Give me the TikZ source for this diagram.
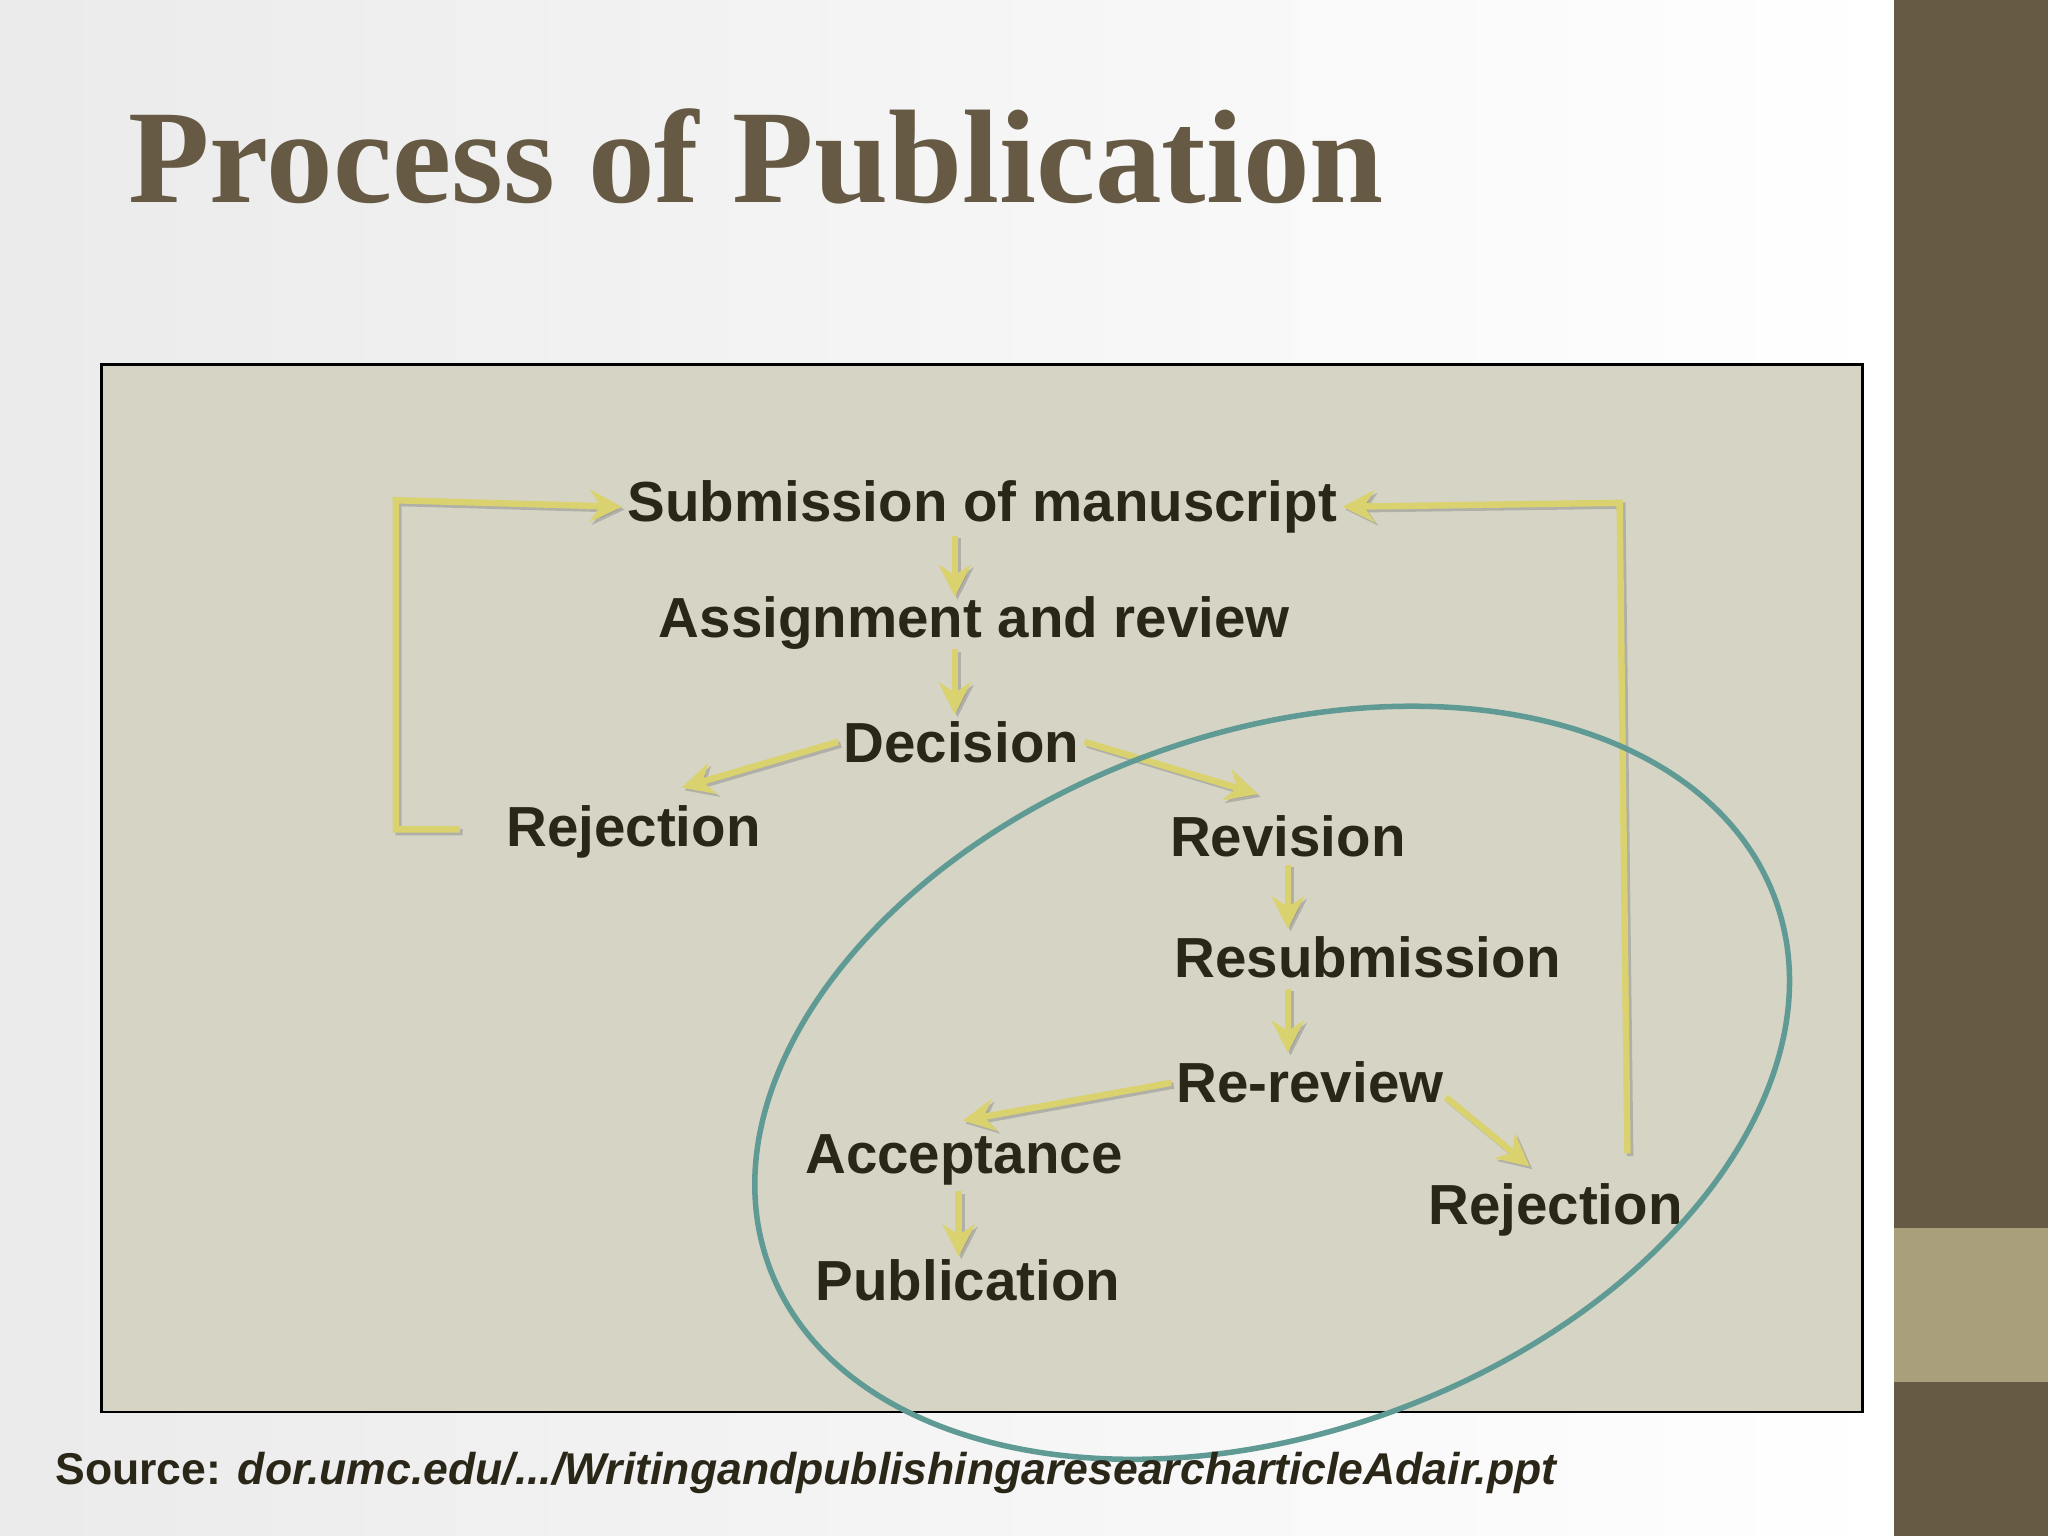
\documentclass[tikz,border=0pt]{standalone}
\usepackage{fontspec}
\setmainfont{Liberation Sans}
\newfontfamily\titlefont{Liberation Serif}
\usetikzlibrary{arrows.meta,shadows}
\definecolor{brn}{HTML}{665A44}
\definecolor{lbrn}{HTML}{A9A07B}
\definecolor{boxc}{HTML}{D6D5C5}
\definecolor{ylw}{HTML}{D9D26E}
\definecolor{teal}{HTML}{5F9A94}
\definecolor{txt}{HTML}{2A2718}
\tikzset{
 lbl/.style={font=\fontsize{12.3}{14}\selectfont\bfseries, text=txt, inner sep=1pt},
 arr/.style={draw=ylw, line width=1.4pt, -{Stealth[length=7pt,width=7pt]},
   preaction={draw=black!45, line width=1.4pt, transform canvas={xshift=0.6pt,yshift=-0.6pt}, opacity=0.5}}
}
\begin{document}
\begin{tikzpicture}[x=0.01cm,y=-0.01cm]
\useasboundingbox (0,0) rectangle (1568,1176);
\shade[left color=black!8, right color=white, shading angle=90] (0,0) rectangle (1450,1176);
\fill[brn] (1450,0) rectangle (1568,1176);
\fill[lbrn] (1450,940) rectangle (1568,1058);
\node[anchor=west, font=\titlefont\fontsize{29}{34}\selectfont\bfseries, text=brn] (title) at (86,120) {Process of Publication};
\draw[fill=boxc, draw=black, line width=0.6pt] (78,279) rectangle (1426,1081);

\node[lbl] (sub) at (752,388) {Submission of manuscript};
\node[lbl] (ass) at (746,477) {Assignment and review};
\node[lbl] (dec) at (736,568) {Decision};
\node[lbl] (rej1) at (485,637) {Rejection};
\node[lbl] (rev) at (986,640) {Revision};
\node[lbl] (res) at (1047,733) {Resubmission};
\node[lbl] (rer) at (1003,829) {Re-review};
\node[lbl] (acc) at (738,888) {Acceptance};
\node[lbl] (pub) at (741,980) {Publication};
\node[lbl] (rej2) at (1191,926) {Rejection};

\draw[arr] (731,410) -- (731,457);
\draw[arr] (731,497) -- (731,547);
\draw[arr] (dec.west) -- (522,603);
\draw[arr] (dec.east) -- (963,608);
\draw[arr] (986,662) -- (986,711);
\draw[arr] (986,757) -- (986,806);
\draw[arr] (rer.west) -- (737,858);
\draw[arr] (1107,840) -- (1171,893);
\draw[arr] (734,912) -- (734,962);
\draw[arr] (352,635) -- (303,635) -- (303,383) -- (sub.west);
\draw[arr] (1246,883) -- (1240,385) -- (sub.east);

\draw[teal, line width=1.2pt, rotate around={20:(974,829)}] (974,829) ellipse [x radius=410, y radius=268];

\node[anchor=west, font=\fontsize{9.7}{12}\selectfont\bfseries, text=txt] (src) at (30,1128) {Source: \textit{dor.umc.edu/.../WritingandpublishingaresearcharticleAdair.ppt}};
\end{tikzpicture}
\end{document}
